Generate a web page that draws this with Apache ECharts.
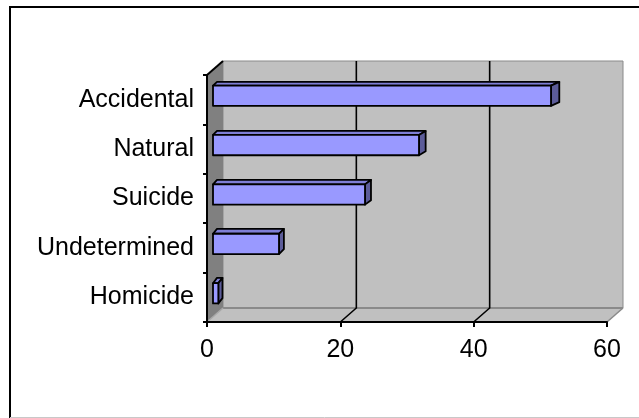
<!DOCTYPE html>
<html>
<head>
<meta charset="utf-8">
<script src="https://cdn.jsdelivr.net/npm/echarts@6/dist/echarts.min.js"></script>
<style>html,body{margin:0;padding:0;background:#fff;}#c{width:639px;height:418px;}</style>
</head>
<body>
<div id="c"></div>
<script>
var categories = ['Accidental', 'Natural', 'Suicide', 'Undetermined', 'Homicide'];
var values = [50.7, 30.9, 22.8, 9.9, 0.8];
var xTicks = [0, 20, 40, 60];

var FONT = '"Liberation Sans", Arial, sans-serif';
var WALL_DX = 16, WALL_DY = -14;

var chart = echarts.init(document.getElementById('c'));

function wallsRender(params, api) {
  var cs = params.coordSys;
  var x0 = api.coord([xTicks[0], 0])[0];
  var x1 = api.coord([xTicks[xTicks.length - 1], 0])[0];
  var top = cs.y, bot = cs.y + cs.height;
  var children = [];
  children.push({type: 'rect', shape: {x: x0 + WALL_DX, y: top + WALL_DY, width: x1 - x0, height: bot - top},
    style: {fill: '#C0C0C0', stroke: '#8a8a8a', lineWidth: 1}});
  children.push({type: 'polygon', shape: {points: [[x0, bot], [x1, bot], [x1 + WALL_DX, bot + WALL_DY], [x0 + WALL_DX, bot + WALL_DY]]},
    style: {fill: '#C0C0C0', stroke: 'none'}});
  children.push({type: 'line', shape: {x1: x0 + WALL_DX, y1: bot + WALL_DY, x2: x1 + WALL_DX, y2: bot + WALL_DY},
    style: {stroke: '#8a8a8a', lineWidth: 2}});
  children.push({type: 'line', shape: {x1: x1, y1: bot, x2: x1 + WALL_DX, y2: bot + WALL_DY},
    style: {stroke: '#8a8a8a', lineWidth: 1.5}});
  children.push({type: 'polygon', shape: {points: [[x0, top], [x0 + WALL_DX, top + WALL_DY], [x0 + WALL_DX, bot + WALL_DY], [x0, bot]]},
    style: {fill: '#808080', stroke: 'none'}});
  children.push({type: 'line', shape: {x1: x0, y1: bot, x2: x0 + WALL_DX, y2: bot + WALL_DY},
    style: {stroke: '#a8a8a8', lineWidth: 1.5}});
  children.push({type: 'line', shape: {x1: x0, y1: top, x2: x0 + WALL_DX, y2: top + WALL_DY},
    style: {stroke: '#000', lineWidth: 2}});
  for (var i = 1; i < xTicks.length - 1; i++) {
    var xf = api.coord([xTicks[i], 0])[0];
    children.push({type: 'polyline', shape: {points: [[xf + WALL_DX, top + WALL_DY], [xf + WALL_DX, bot + WALL_DY], [xf, bot]]},
      style: {stroke: '#000', lineWidth: 1.6, fill: 'none'}});
  }
  return {type: 'group', children: children};
}

function barRender(params, api) {
  var v = api.value(0), idx = api.value(1);
  var c0 = api.coord([0, idx]);
  var c1 = api.coord([v, idx]);
  var band = api.size([0, 1])[1];
  var h = band * 0.41;
  var fx0 = c0[0] + 6, fx1 = c1[0] + 6;
  var yc = c0[1] - 4;
  var t = yc - h / 2, b = yc + h / 2;
  var cs = params.coordSys;
  var frac = (fx1 - cs.x) / cs.width;
  var dxL = 4, dxR = 4 + 5 * frac;
  var dy = -3.5 - 2 * ((yc - cs.y) / cs.height);
  var st = {stroke: '#000', lineWidth: 1.8, lineJoin: 'round'};
  return {type: 'group', children: [
    {type: 'polygon', shape: {points: [[fx0, t], [fx1, t], [fx1 + dxR, t + dy], [fx0 + dxL, t + dy]]},
      style: Object.assign({fill: '#7F7FD6'}, st)},
    {type: 'polygon', shape: {points: [[fx1, t], [fx1 + dxR, t + dy], [fx1 + dxR, b + dy], [fx1, b]]},
      style: Object.assign({fill: '#5C5C99'}, st)},
    {type: 'rect', shape: {x: fx0, y: t, width: fx1 - fx0, height: h},
      style: Object.assign({fill: '#9999FF'}, st)}
  ]};
}

chart.setOption({
  animation: false,
  backgroundColor: '#fff',
  graphic: [
    {type: 'rect', shape: {x: 10, y: 7, width: 650, height: 430}, style: {fill: 'none', stroke: '#000', lineWidth: 2}, z: 100},
    {type: 'line', shape: {x1: 10, y1: 417.5, x2: 639, y2: 417.5}, style: {stroke: '#c8c8c8', lineWidth: 1}, z: 100}
  ],
  grid: {left: 207, top: 75, width: 400, height: 247, containLabel: false},
  xAxis: {
    type: 'value', min: 0, max: 60, interval: 20,
    axisLine: {show: true, lineStyle: {color: '#000', width: 2}},
    axisTick: {show: true, length: 5, lineStyle: {color: '#000', width: 2}},
    axisLabel: {color: '#000', fontSize: 25, fontFamily: FONT, margin: 16},
    splitLine: {show: false},
    z: 5
  },
  yAxis: {
    type: 'category', data: categories, inverse: true,
    axisLine: {show: true, lineStyle: {color: '#000', width: 2}},
    axisTick: {show: true, length: 4, lineStyle: {color: '#000', width: 2}},
    axisLabel: {color: '#000', fontSize: 25, fontFamily: FONT, margin: 13},
    splitLine: {show: false},
    z: 5
  },
  series: [
    {type: 'custom', renderItem: wallsRender, data: [[0, 0]], encode: {x: 0, y: 1}, z: -1, silent: true},
    {type: 'custom', renderItem: barRender, data: values.map(function (v, i) { return [v, i]; }), encode: {x: 0, y: 1}, z: 3}
  ]
});
</script>
</body>
</html>
